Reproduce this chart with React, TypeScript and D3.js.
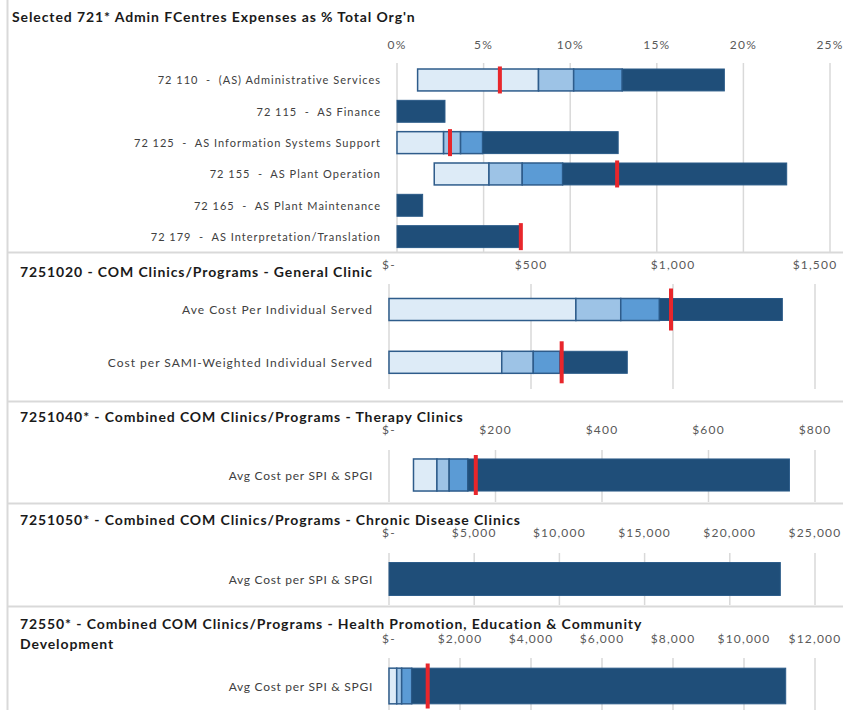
import React from 'react';
import * as d3 from 'd3';

// ---------- DATA ----------
const adminTitle = ["Selected 721* Admin FCentres Expenses as % Total Org'n"];
const adminCategories = [
  "72 110  -  (AS) Administrative Services",
  "72 115  -  AS Finance",
  "72 125  -  AS Information Systems Support",
  "72 155  -  AS Plant Operation",
  "72 165  -  AS Plant Maintenance",
  "72 179  -  AS Interpretation/Translation",
];
const adminStart = [1.19, 0, 0, 2.15, 0, 0];
const adminBand1 = [8.17, 0, 2.69, 5.31, 0, 0];
const adminBand2 = [10.2, 0, 3.67, 7.23, 0, 0];
const adminBand3 = [13.0, 0, 4.94, 9.56, 0, 0];
const adminEnd = [18.9, 2.77, 12.77, 22.5, 1.48, 7.1];
const adminActual: (number | null)[] = [5.94, null, 3.06, 12.71, null, 7.15];
const adminTicks = [0, 5, 10, 15, 20, 25];

const generalTitle = ["7251020 - COM Clinics/Programs - General Clinic"];
const generalCategories = ["Ave Cost Per Individual Served", "Cost per SAMI-Weighted Individual Served"];
const generalStart = [0, 0];
const generalBand1 = [658, 397];
const generalBand2 = [816, 508];
const generalBand3 = [952, 602];
const generalEnd = [1385, 839];
const generalActual: (number | null)[] = [993, 608];
const generalTicks = [0, 500, 1000, 1500];

const therapyTitle = ["7251040* - Combined COM Clinics/Programs - Therapy Clinics"];
const therapyCategories = ["Avg Cost per SPI & SPGI"];
const therapyStart = [46];
const therapyBand1 = [90];
const therapyBand2 = [113];
const therapyBand3 = [148];
const therapyEnd = [752];
const therapyActual: (number | null)[] = [163];
const therapyTicks = [0, 200, 400, 600, 800];

const chronicTitle = ["7251050* - Combined COM Clinics/Programs - Chronic Disease Clinics"];
const chronicCategories = ["Avg Cost per SPI & SPGI"];
const chronicStart = [0];
const chronicBand1 = [0];
const chronicBand2 = [0];
const chronicBand3 = [0];
const chronicEnd = [22965];
const chronicActual: (number | null)[] = [null];
const chronicTicks = [0, 5000, 10000, 15000, 20000, 25000];

const healthTitle = [
  "72550* - Combined COM Clinics/Programs - Health Promotion, Education & Community",
  "Development",
];
const healthCategories = ["Avg Cost per SPI & SPGI"];
const healthStart = [0];
const healthBand1 = [217];
const healthBand2 = [357];
const healthBand3 = [639];
const healthEnd = [11175];
const healthActual: (number | null)[] = [1090];
const healthTicks = [0, 2000, 4000, 6000, 8000, 10000, 12000];

// ---------- STYLE ----------
const SEG_COLORS = ['#DDEBF7', '#9DC3E6', '#5B9BD5', '#1F4E79'];
const SEG_STROKE = '#2E5C8B';
const RED = '#E8262B';
const GRID = '#D9D9D9';
const FONT = 'Lato, "Open Sans", sans-serif';

const pctFmt = (d: number) => `${d}%`;
const dolFmt = (d: number) => (d === 0 ? '$-' : '$' + d3.format(',')(d));

type Panel = {
  title: string[];
  categories: string[];
  start: number[];
  b1: number[];
  b2: number[];
  b3: number[];
  end: number[];
  actual: (number | null)[];
  ticks: number[];
  fmt: (d: number) => string;
  x0: number; x1: number;
  y0: number; y1: number;
  padInner: number; padOuter: number;
  gridTop: number; gridBottom: number;
  tickY: number; titleX: number; titleY: number; labelX: number;
  markerH: number;
  labelSize: number; labelSpacing: number;
};

const panels: Panel[] = [
  {
    title: adminTitle, categories: adminCategories, start: adminStart, b1: adminBand1, b2: adminBand2,
    b3: adminBand3, end: adminEnd, actual: adminActual, ticks: adminTicks, fmt: pctFmt,
    x0: 397, x1: 830, y0: 64.3, y1: 252.3, padInner: 0.3, padOuter: 0.15,
    gridTop: 63, gridBottom: 252, tickY: 44, titleX: 12, titleY: 16, labelX: 381, markerH: 27,
    labelSize: 11, labelSpacing: 1.0,
  },
  {
    title: generalTitle, categories: generalCategories, start: generalStart, b1: generalBand1, b2: generalBand2,
    b3: generalBand3, end: generalEnd, actual: generalActual, ticks: generalTicks, fmt: dolFmt,
    x0: 389, x1: 815, y0: 283.1, y1: 388.7, padInner: 0.583, padOuter: 0.2915,
    gridTop: 284, gridBottom: 389, tickY: 264, titleX: 20, titleY: 271, labelX: 373, markerH: 42,
    labelSize: 12, labelSpacing: 1.0,
  },
  {
    title: therapyTitle, categories: therapyCategories, start: therapyStart, b1: therapyBand1, b2: therapyBand2,
    b3: therapyBand3, end: therapyEnd, actual: therapyActual, ticks: therapyTicks, fmt: dolFmt,
    x0: 389, x1: 815, y0: 450, y1: 500, padInner: 0, padOuter: 0.28,
    gridTop: 450, gridBottom: 502, tickY: 429.5, titleX: 20, titleY: 416, labelX: 373, markerH: 40,
    labelSize: 12, labelSpacing: 0.7,
  },
  {
    title: chronicTitle, categories: chronicCategories, start: chronicStart, b1: chronicBand1, b2: chronicBand2,
    b3: chronicBand3, end: chronicEnd, actual: chronicActual, ticks: chronicTicks, fmt: dolFmt,
    x0: 389, x1: 815, y0: 553, y1: 605, padInner: 0, padOuter: 0.29,
    gridTop: 553, gridBottom: 605, tickY: 532.5, titleX: 20, titleY: 519, labelX: 373, markerH: 40,
    labelSize: 12, labelSpacing: 0.7,
  },
  {
    title: healthTitle, categories: healthCategories, start: healthStart, b1: healthBand1, b2: healthBand2,
    b3: healthBand3, end: healthEnd, actual: healthActual, ticks: healthTicks, fmt: dolFmt,
    x0: 389, x1: 815, y0: 658, y1: 714, padInner: 0, padOuter: 0.285,
    gridTop: 658, gridBottom: 710, tickY: 638, titleX: 20, titleY: 623, labelX: 373, markerH: 45,
    labelSize: 12, labelSpacing: 0.7,
  },
];

const separators = [252.5, 401.5, 503.5, 606.5];

function PanelView({ p }: { p: Panel }) {
  const maxTick = p.ticks[p.ticks.length - 1];
  const x = d3.scaleLinear().domain([0, maxTick]).range([p.x0, p.x1]);
  const y = d3.scaleBand<string>().domain(p.categories).range([p.y0, p.y1])
    .paddingInner(p.padInner).paddingOuter(p.padOuter);
  const bw = y.bandwidth();
  return (
    <g>
      {p.title.map((t, i) => (
        <text key={i} x={p.titleX} y={p.titleY + i * 20} dominantBaseline="central"
          fontFamily={FONT} fontWeight={700} fontSize={14} letterSpacing={0.9} fill="#1a1a1a"
          style={{ whiteSpace: 'pre' }}>{t}</text>
      ))}
      {p.ticks.map((t) => (
        <g key={t}>
          <line x1={x(t)} x2={x(t)} y1={p.gridTop} y2={p.gridBottom} stroke={GRID} strokeWidth={1.5} />
          <text x={x(t)} y={p.tickY} textAnchor="middle" dominantBaseline="central"
            fontFamily={FONT} fontSize={12} fill="#595959" letterSpacing={1.2}>{p.fmt(t)}</text>
        </g>
      ))}
      {p.categories.map((c, i) => {
        const yy = y(c)!;
        const cy = yy + bw / 2;
        const bounds = [p.start[i], p.b1[i], p.b2[i], p.b3[i], p.end[i]];
        const segs = [];
        for (let k = 0; k < 4; k++) {
          const a = bounds[k];
          const b = Math.max(bounds[k + 1], a);
          if (b - a <= 0) continue;
          segs.push(
            <rect key={k} x={x(a)} y={yy} width={x(b) - x(a)} height={bw}
              fill={SEG_COLORS[k]} stroke={k === 3 ? '#2A5A88' : SEG_STROKE} strokeWidth={k === 3 ? 1 : 1.5} />
          );
        }
        const act = p.actual[i];
        return (
          <g key={c}>
            <text x={p.labelX} y={cy} textAnchor="end" dominantBaseline="central"
              fontFamily={FONT} fontSize={p.labelSize} fill="#404040" letterSpacing={p.labelSpacing}
              style={{ whiteSpace: 'pre' }}>{c}</text>
            {segs}
            {act !== null && (
              <rect x={x(act) - 2} y={cy - p.markerH / 2} width={4} height={p.markerH} fill={RED} />
            )}
          </g>
        );
      })}
    </g>
  );
}

export default function App() {
  return (
    <svg width={843} height={710} style={{ position: 'absolute', left: 0, top: 0, background: '#fff' }}>
      <rect x={0} y={0} width={843} height={710} fill="#fff" />
      {panels.map((p, i) => <PanelView key={i} p={p} />)}
      {separators.map((s) => (
        <line key={s} x1={7} x2={843} y1={s} y2={s} stroke={GRID} strokeWidth={2} />
      ))}
      <line x1={7.5} x2={7.5} y1={0} y2={710} stroke={GRID} strokeWidth={2} />
    </svg>
  );
}
